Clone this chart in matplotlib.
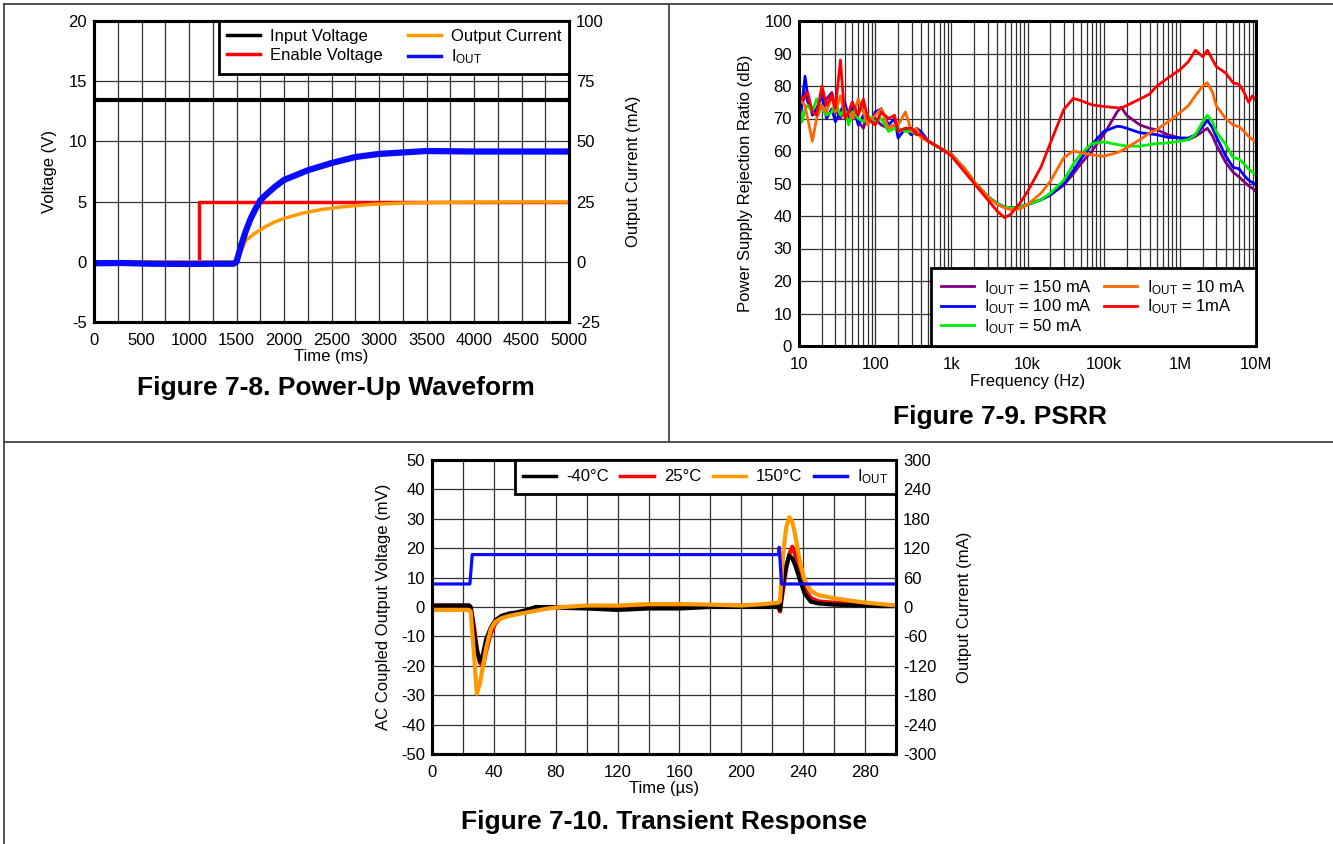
import numpy as np
import matplotlib
matplotlib.use('Agg')
import matplotlib.pyplot as plt
from matplotlib.lines import Line2D
from matplotlib.ticker import MultipleLocator, FixedLocator, LogLocator, NullFormatter

plt.rcParams['font.family'] = ['Liberation Sans', 'DejaVu Sans']
plt.rcParams['mathtext.fontset'] = 'custom'
plt.rcParams['mathtext.rm'] = 'Liberation Sans'
plt.rcParams['mathtext.it'] = 'Liberation Sans:italic'
plt.rcParams['axes.unicode_minus'] = False
plt.rcParams['font.size'] = 12

# ---- Figure 7-8: power-up waveform ----
t_input = [0, 5000]
v_input = [13.4, 13.4]
t_enable = [0, 1100, 1100, 5000]
v_enable = [0, 0, 5, 5]
t_vout = [0, 1480, 1500, 1550, 1600, 1700, 1800, 1900, 2000, 2200, 2400, 2600, 2800,
          3000, 3300, 3600, 4000, 4500, 5000]
v_vout = [0, 0, 0.1, 0.9, 1.8, 2.4, 2.9, 3.3, 3.6, 4.05, 4.35, 4.55, 4.7,
          4.8, 4.88, 4.93, 4.96, 4.97, 4.97]
t_iout = [0, 300, 600, 1000, 1300, 1470, 1500, 1550, 1600, 1650, 1700, 1750, 1800,
          1900, 2000, 2250, 2500, 2750, 3000, 3500, 4000, 4500, 5000]
i_iout = [-0.6, -0.5, -0.8, -0.9, -0.8, -0.8, 0, 7, 13, 18, 22, 25.5, 27.5,
          31, 34, 38, 41, 43.5, 44.8, 46, 45.8, 45.8, 45.8]

# ---- Figure 7-9: PSRR ----
freq = [10, 11, 12, 13, 15, 17, 20, 23, 27, 30, 35, 40, 45, 50, 60, 70, 80, 90, 100,
        120, 150, 180, 200, 250, 300, 350, 400, 500,
        700, 1e3, 1.5e3, 2e3, 3e3, 4e3, 5e3, 6e3, 7e3, 8e3, 1e4, 1.5e4, 2e4, 3e4, 4e4,
        5e4, 7e4, 1e5, 1.5e5, 1.7e5, 2e5, 3e5, 4e5, 5e5, 7e5, 1e6, 1.3e6, 1.6e6, 2e6,
        2.3e6, 2.7e6, 3e6, 4e6, 5e6, 6e6, 7e6, 8e6, 9e6, 1e7]
psrr_150mA = [75, 74, 78, 75, 73, 71, 74, 76, 78, 73, 70, 74, 70, 72, 69, 67, 71, 69, 70,
              68, 67, 68, 66, 67, 65, 66, 65, 63,
              61, 59, 54.5, 50.5, 46, 43.8, 42.8, 42.5, 42.5, 42.8, 43.5, 45, 46.5, 49.5, 53,
              56, 60, 65, 72, 73.5, 71, 68, 67, 66.5, 65, 64, 63.5, 64.5, 66,
              67, 64.5, 62, 56.5, 53.5, 52, 50.5, 49.3, 48.5, 47.5]
psrr_100mA = [66, 75, 83, 77, 71, 73, 77, 70, 73, 69, 72, 75, 70, 75, 68, 71, 70, 69, 72,
              73, 68, 70, 64, 67, 65, 67, 66, 63,
              61, 59, 54.5, 50.5, 46, 43.8, 42.8, 42.5, 42.5, 42.8, 43.5, 45, 46.5, 50, 54,
              57.5, 62, 66, 67.6, 67.5, 67, 65.6, 65.3, 65, 64.2, 64, 64, 65, 67.5,
              69.5, 67, 64.5, 58.5, 55, 54.5, 52.5, 51, 50.3, 49.5]
psrr_50mA = [74, 69, 73, 74, 72, 76, 73, 71, 72, 75, 71, 73, 68, 72, 70, 69, 71, 70, 69,
             70, 66, 67, 67, 66, 66, 65, 65, 63,
             61, 59, 54.5, 50.5, 46, 43.8, 42.8, 42.5, 42.5, 42.8, 43.5, 45, 47, 51, 56,
             59, 62.3, 62.8, 62, 61.8, 61.5, 61.5, 62, 62.3, 62.5, 63, 63.5, 65, 69,
             71, 69, 66, 62, 58, 57.5, 56, 54.5, 53.5, 52.5]
psrr_10mA = [76, 75, 74, 70, 63, 70, 74, 72, 77, 72, 77, 71, 72, 70, 76, 72, 68, 70, 71,
             73, 67, 68, 68, 72, 66, 67, 64, 63,
             61, 59, 54.5, 50.5, 46, 43.5, 42.5, 42, 42, 42.2, 43.5, 47, 50.7, 58, 60,
             59.5, 58.8, 58.4, 59.5, 60, 61, 63.5, 65.5, 66.6, 69, 71.7, 74, 77, 80,
             81, 78, 74, 70, 68, 67.5, 66, 64.5, 63.5, 62.5]
psrr_1mA = [77, 76, 77, 78, 72, 71, 80, 74, 77, 73, 88, 70, 72, 75, 71, 76, 70, 69, 68,
            72, 70, 71, 66, 67, 67, 65, 65, 63,
            61, 58.5, 53.5, 50, 45, 41.5, 39.5, 40.5, 42.4, 44, 47.5, 55, 62.5, 72.8, 76.2,
            75.5, 74.2, 73.7, 73.3, 73.2, 74, 76, 77.5, 80, 82.5, 85, 87.5, 91, 89,
            91, 88, 86, 84, 81, 80.5, 78, 75, 77, 75.5]
freq_ticks = [10, 100, 1e3, 1e4, 1e5, 1e6, 1e7]
freq_labels = ['10', '100', '1k', '10k', '100k', '1M', '10M']

# ---- Figure 7-10: transient response ----
t_step = [0, 24.5, 26, 224, 224.5, 226, 300]
i_step = [47, 47, 107, 107, 122, 47, 47]
t_tr = [0, 10, 20, 24, 25, 27, 29, 31, 33, 35, 38, 41, 45, 50, 55, 60, 67, 75, 85, 100,
        120, 140, 160, 180, 200, 215, 224, 225, 227, 229, 231, 233, 235, 238, 241, 245,
        250, 260, 270, 280, 290, 300]
v_m40 = [0.5, 0.5, 0.5, 0.5, 0, -8, -15, -18.5, -16, -11, -7, -4.5, -3, -2.2, -1.8, -1.2,
         0, 0, -0.3, -0.5, -1, -0.5, -0.5, 0, 0, 0, 0, -1, 8, 14, 17.5, 16.5, 14, 9, 4.5,
         1.8, 1.2, 0.8, 0.6, 0.5, 0.3, 0.3]
v_25 = [0.5, 0.5, 0.5, 0.5, 0, -6, -14, -19, -20, -15, -9, -5.5, -3.5, -2.5, -2, -1.5,
        -0.5, 0, -0.3, -0.3, -0.5, 0, 0, 0.5, 0.5, 0.5, 0.3, -1.5, 6, 13, 18, 20.5, 17.5,
        10, 6, 3, 1.9, 1.4, 1.2, 1, 0.7, 0.5]
v_150 = [-1, -1, -1, -1, -1.5, -15, -29.5, -26, -20, -14, -7.5, -5, -3.8, -3, -2.5, -2,
         -1.3, -0.5, 0, 0.5, 0.5, 1, 1, 0.8, 0.5, 1, 1.5, 2, 18, 27, 30.5, 29, 24, 15, 9,
         5.5, 4, 3, 2.2, 1.5, 1, 0.5]

IOUT = r'I$_{\mathregular{OUT}}$'
W, H = 1333, 844
fig = plt.figure(figsize=(W / 100, H / 100), dpi=100)


def box(l, t, r, b):
    return [l / W, 1 - b / H, (r - l) / W, (b - t) / H]


def style(ax):
    for s in ax.spines.values():
        s.set_linewidth(2.2)
        s.set_color('black')
    ax.tick_params(which='both', length=0, labelsize=12)
    ax.tick_params(axis='x', pad=8)
    ax.tick_params(axis='y', pad=5)


def legend(ax, handles, labels, loc, ncol, colsp=0.7, **kw):
    leg = ax.legend(handles, labels, loc=loc, ncol=ncol, fancybox=False, framealpha=1,
                    edgecolor='black', borderaxespad=0, fontsize=12,
                    handlelength=2.0, handletextpad=0.6, columnspacing=colsp, **kw)
    leg.get_frame().set_linewidth(2)
    return leg


# frame lines
for xs, ys in [([3.5 / W, 1], [1 - 3.5 / H] * 2),
               ([3.5 / W] * 2, [0, 1 - 3.5 / H]),
               ([669 / W] * 2, [1 - 442 / H, 1 - 3.5 / H]),
               ([3.5 / W, 1], [1 - 442 / H] * 2)]:
    fig.add_artist(Line2D(xs, ys, transform=fig.transFigure, color='#444444', lw=1.3))

# ---------- power-up ----------
ax1 = fig.add_axes(box(94, 21, 569, 322))
ax1.plot(t_input, v_input, color='black', lw=3)
ax1.plot(t_enable, v_enable, color='#ff0000', lw=2.5)
ax1.plot(t_vout, v_vout, color='#ff9900', lw=2.5)
ax1.set_xlim(0, 5000)
ax1.set_ylim(-5, 20)
ax1.xaxis.set_major_locator(MultipleLocator(500))
ax1.xaxis.set_minor_locator(MultipleLocator(250))
ax1.yaxis.set_major_locator(MultipleLocator(5))
ax1.grid(True, which='both', color='#303030', lw=0.9)
ax1.set_axisbelow(True)
ax1.set_xlabel('Time (ms)', labelpad=1)
ax1.set_ylabel('Voltage (V)', labelpad=8)
style(ax1)
ax1b = ax1.twinx()
ax1b.plot(t_iout, i_iout, color='#0a0aff', lw=4.5)
ax1b.set_ylim(-25, 100)
ax1b.yaxis.set_major_locator(MultipleLocator(25))
ax1b.set_ylabel('Output Current (mA)', labelpad=16)
style(ax1b)
h1 = [Line2D([], [], color=c, lw=2.5) for c in ['black', '#ff0000', '#ff9900', '#0a0aff']]
legend(ax1b, h1, ['Input Voltage', 'Enable Voltage', 'Output Current', IOUT],
       'upper right', 2, colsp=1.5, labelspacing=0.25, borderpad=0.45)
fig.text(336 / W, 1 - 388 / H, 'Figure 7-8. Power-Up Waveform', ha='center', va='center',
         fontsize=19, weight='bold')

# ---------- PSRR ----------
ax2 = fig.add_axes(box(799, 21, 1256, 346))
psrr_series = [(psrr_150mA, '#800080', IOUT + ' = 150 mA'),
               (psrr_100mA, '#0000ff', IOUT + ' = 100 mA'),
               (psrr_50mA, '#00ee00', IOUT + ' = 50 mA'),
               (psrr_10mA, '#ff6600', IOUT + ' = 10 mA'),
               (psrr_1mA, '#ff0000', IOUT + ' = 1mA')]
for vals, c, lab in psrr_series:
    ax2.plot(freq, vals, color=c, lw=2, label=lab)
ax2.set_xscale('log')
ax2.set_xlim(10, 1e7)
ax2.set_ylim(0, 100)
ax2.xaxis.set_major_locator(FixedLocator(freq_ticks))
ax2.set_xticklabels(freq_labels)
ax2.xaxis.set_minor_locator(LogLocator(base=10, subs=np.arange(2, 10)))
ax2.xaxis.set_minor_formatter(NullFormatter())
ax2.yaxis.set_major_locator(MultipleLocator(10))
ax2.grid(True, which='both', color='#303030', lw=0.9)
ax2.set_axisbelow(True)
ax2.set_xlabel('Frequency (Hz)', labelpad=1)
ax2.set_ylabel('Power Supply Rejection Ratio (dB)', labelpad=8)
style(ax2)
legend(ax2, *ax2.get_legend_handles_labels(), 'lower right', 2,
       labelspacing=0.05, borderpad=0.6)
fig.text(1000 / W, 1 - 417 / H, 'Figure 7-9. PSRR', ha='center', va='center',
         fontsize=19, weight='bold')

# ---------- transient ----------
ax3 = fig.add_axes(box(432, 460, 896, 754))
ax3.plot(t_tr, v_25, color='#ff0000', lw=3)
ax3.plot(t_tr, v_m40, color='black', lw=3)
ax3.plot(t_tr, v_150, color='#ff9900', lw=3)
ax3.set_xlim(0, 300)
ax3.set_ylim(-50, 50)
ax3.xaxis.set_major_locator(FixedLocator(np.arange(0, 281, 40)))
ax3.xaxis.set_minor_locator(MultipleLocator(20))
ax3.yaxis.set_major_locator(MultipleLocator(10))
ax3.grid(True, which='both', color='#303030', lw=0.9)
ax3.set_axisbelow(True)
ax3.set_xlabel('Time (\u00b5s)', labelpad=1)
ax3.set_ylabel('AC Coupled Output Voltage (mV)', labelpad=7)
style(ax3)
ax3b = ax3.twinx()
ax3b.plot(t_step, i_step, color='#0a0aff', lw=2.3)
ax3b.set_ylim(-300, 300)
ax3b.yaxis.set_major_locator(MultipleLocator(60))
ax3b.set_ylabel('Output Current (mA)', labelpad=15)
style(ax3b)
h3 = [Line2D([], [], color=c, lw=2.5) for c in ['black', '#ff0000', '#ff9900', '#0a0aff']]
legend(ax3b, h3, ['-40\u00b0C', '25\u00b0C', '150\u00b0C', IOUT], 'upper right', 4,
       borderpad=0.45)
fig.text(664 / W, 1 - 822 / H, 'Figure 7-10. Transient Response', ha='center',
         va='center', fontsize=19, weight='bold')

fig.savefig('out.png', dpi=100)
